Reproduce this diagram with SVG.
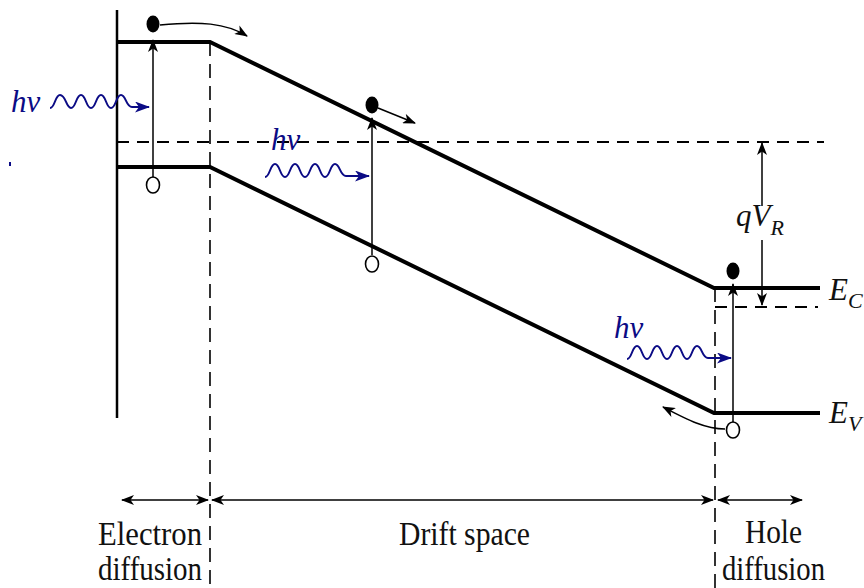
<svg xmlns="http://www.w3.org/2000/svg" width="864" height="588" viewBox="0 0 864 588">
<style>
.band{fill:none;stroke:#000;stroke-width:4;stroke-linejoin:miter}
.dash{fill:none;stroke:#000;stroke-width:2.2;stroke-dasharray:12 8}
.vdash{fill:none;stroke:#000;stroke-width:1.6;stroke-dasharray:14 8}
.thin{fill:none;stroke:#000;stroke-width:1.5}
.wave{fill:none;stroke:#0b0b85;stroke-width:2}
.lbl{font-family:"Liberation Serif","Times New Roman",serif;font-size:33px;fill:#111}
.sym{font-family:"Liberation Serif","Times New Roman",serif;font-style:italic;font-size:31px;fill:#111}
.sub{font-size:22px}
.hv{font-family:"Liberation Serif","Times New Roman",serif;font-style:italic;font-size:31px;fill:#0b0b85}
.hole{fill:#fff;stroke:#000;stroke-width:1.6}
</style>
<defs>
<marker id="ah" markerUnits="userSpaceOnUse" markerWidth="13" markerHeight="10" refX="12" refY="5" orient="auto-start-reverse" viewBox="0 0 13 10">
<path d="M0,0 L13,5 L0,10 L3.5,5 z" fill="#000"/>
</marker>
<marker id="bh" markerUnits="userSpaceOnUse" markerWidth="15" markerHeight="11" refX="14" refY="5.5" orient="auto" viewBox="0 0 15 11">
<path d="M0,0 L15,5.5 L0,11 L4,5.5 z" fill="#0b0b85"/>
</marker>
</defs>

<g id="structure">
<line x1="117" y1="10" x2="117" y2="418" stroke="#000" stroke-width="2.5"/>
<polyline id="Ec" class="band" points="117,42 210,42 714,288 820,288"/>
<polyline id="Ev" class="band" points="117,167 210,167 714,413 820,413"/>
<line class="dash" x1="117" y1="142" x2="824" y2="142"/>
<line class="dash" x1="715" y1="307" x2="818" y2="307"/>
<line class="vdash" x1="210" y1="42" x2="210" y2="588"/>
<line class="vdash" x1="715" y1="288" x2="715" y2="588"/>
<rect x="9" y="162" width="2" height="4" fill="#0b0b85"/>
</g>

<g id="connectors">
<line class="thin" x1="153" y1="177" x2="153" y2="40" marker-end="url(#ah)"/>
<path class="thin" d="M160,25 C200,21 226,23 247,36" marker-end="url(#ah)"/>
<line class="thin" x1="372" y1="255" x2="372" y2="118" marker-end="url(#ah)"/>
<line class="thin" x1="378" y1="108" x2="415" y2="123" marker-end="url(#ah)"/>
<line class="thin" x1="733" y1="422" x2="733" y2="284" marker-end="url(#ah)"/>
<path class="thin" d="M725,429 C705,429 688,420 663,407" marker-end="url(#ah)"/>
<line class="thin" x1="762" y1="206" x2="762" y2="143" marker-end="url(#ah)"/>
<line class="thin" x1="762" y1="240" x2="762" y2="305" marker-end="url(#ah)"/>
<line class="thin" x1="122" y1="500" x2="208" y2="500" marker-start="url(#ah)" marker-end="url(#ah)"/>
<line class="thin" x1="212" y1="500" x2="713" y2="500" marker-start="url(#ah)" marker-end="url(#ah)"/>
<line class="thin" x1="718" y1="500" x2="802" y2="500" marker-start="url(#ah)" marker-end="url(#ah)"/>
</g>

<g id="photon1">
<text class="hv" x="11" y="112">hν</text>
<path class="wave" d="M50,108 C55,108 55,95 60,95 C66,95 66,108 71,108 C76,108 76,95 81,95 C86,95 86,108 91,108 C96,108 96,95 101,95 C106,95 106,108 111,108 C116,108 116,95 121,95 C126,95 126,107 132,107 L149,107" marker-end="url(#bh)"/>
</g>
<g id="photon2">
<text class="hv" x="271" y="150">hν</text>
<path class="wave" d="M265,177 C270,177 270,164 275,164 C280,164 280,177 285,177 C290,177 290,164 295,164 C300,164 300,177 305,177 C310,177 310,164 315,164 C320,164 320,177 325,177 C330,177 330,164 335,164 C340,164 340,176 346,176 L369,176" marker-end="url(#bh)"/>
</g>
<g id="photon3">
<text class="hv" x="614" y="338">hν</text>
<path class="wave" d="M627,359 C632,359 632,346 637,346 C642,346 642,359 647,359 C652,359 652,346 657,346 C662,346 662,359 667,359 C672,359 672,346 677,346 C682,346 682,359 687,359 C692,359 692,346 697,346 C702,346 702,358 708,358 L731,358" marker-end="url(#bh)"/>
</g>

<g id="carriers">
<ellipse cx="153" cy="24" rx="6.5" ry="8.5" fill="#000"/>
<ellipse class="hole" cx="153" cy="185" rx="6.5" ry="8"/>
<ellipse cx="372" cy="105" rx="6.5" ry="8.5" fill="#000"/>
<ellipse class="hole" cx="372" cy="264" rx="6.5" ry="8"/>
<ellipse cx="733" cy="271" rx="6.5" ry="8.5" fill="#000"/>
<ellipse class="hole" cx="733" cy="430" rx="6.5" ry="8"/>
</g>

<g id="qVR">
<text class="sym" x="736" y="226">q<tspan>V</tspan><tspan class="sub" dy="9">R</tspan></text>
</g>
<g id="EC"><text class="sym" x="829" y="300">E<tspan class="sub" dy="8">C</tspan></text></g>
<g id="EV"><text class="sym" x="829" y="423">E<tspan class="sub" dy="8">V</tspan></text></g>

<g id="labels">
<text class="lbl" x="98" y="545" textLength="104" lengthAdjust="spacingAndGlyphs">Electron</text>
<text class="lbl" x="98" y="580" textLength="104" lengthAdjust="spacingAndGlyphs">diffusion</text>
<text class="lbl" x="399" y="545" textLength="131" lengthAdjust="spacingAndGlyphs">Drift space</text>
<text class="lbl" x="745" y="543" textLength="57" lengthAdjust="spacingAndGlyphs">Hole</text>
<text class="lbl" x="722" y="580" textLength="103" lengthAdjust="spacingAndGlyphs">diffusion</text>
</g>
</svg>
